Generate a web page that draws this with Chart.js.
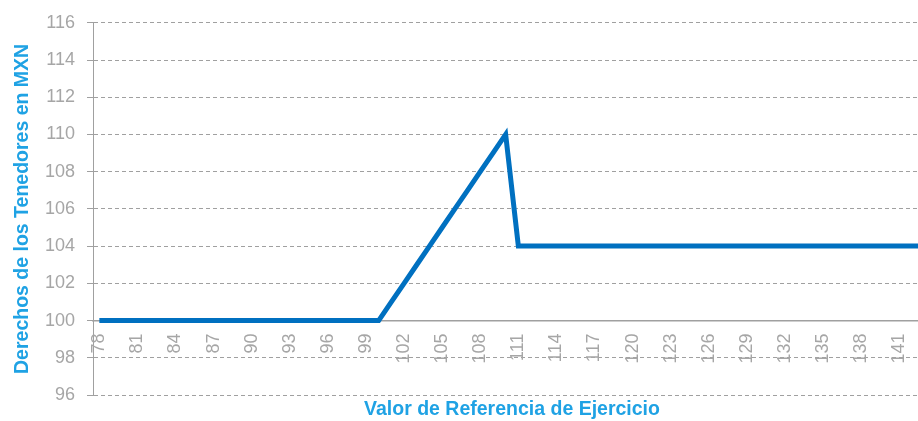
<!DOCTYPE html>
<html>
<head>
<meta charset="utf-8">
<script src="https://cdn.jsdelivr.net/npm/chart.js@4/dist/chart.umd.min.js"></script>
<style>
html,body{margin:0;padding:0;background:#ffffff;overflow:hidden;}
#wrap{width:918px;height:421px;position:relative;overflow:hidden;}
#c{position:absolute;left:0;top:0;}
</style>
</head>
<body>
<div id="wrap"><canvas id="c" width="931" height="421"></canvas></div>
<script>
// Categories (Valor de Referencia de Ejercicio)
const categories = ['78','79','80','81','82','83','84','85','86','87','88','89','90','91','92','93','94','95','96','97','98','99','100',
  '101','102','103','104','105','106','107','108','109','110',
  '111','112','113','114','115','116','117','118','119','120','121','122','123','124','125','126','127','128','129','130',
  '131','132','133','134','135','136','137','138','139','140','141','142','143'];
// Derechos de los Tenedores en MXN
const values = [100,100,100,100,100,100,100,100,100,100,100,100,100,100,100,100,100,100,100,100,100,100,100,
  101,102,103,104,105,106,107,108,109,110,
  104,104,104,104,104,104,104,104,104,104,104,104,104,104,104,104,104,104,104,104,
  104,104,104,104,104,104,104,104,104,104,104,104,104];
// Tick labels shown on the x axis
const xTickLabels = ['78','81','84','87','90','93','96','99','102','105','108','111','114','117','120','123','126','129','132','135','138','141'];
const yMin = 96, yMax = 116, yStep = 2;

const gray = '#a6a6a6';
const blue = '#1fa2e4';
const fontFamily = '"Liberation Sans", Arial, sans-serif';

new Chart(document.getElementById('c'), {
  type: 'line',
  data: {
    labels: categories,
    datasets: [{
      data: values,
      borderColor: '#0070c0',
      borderWidth: 5,
      pointRadius: 0,
      pointHoverRadius: 0,
      tension: 0,
      fill: false,
      borderJoinStyle: 'miter',
      borderCapStyle: 'butt'
    }]
  },
  options: {
    responsive: false,
    devicePixelRatio: 1,
    animation: false,
    events: [],
    layout: { padding: { top: 20, right: 0, left: 0, bottom: 0 } },
    plugins: { legend: { display: false }, tooltip: { enabled: false } },
    scales: {
      y: {
        min: yMin, max: yMax,
        afterFit: s => { s.width = 93; },
        ticks: { stepSize: yStep, color: gray, padding: 12, font: { family: fontFamily, size: 18 } },
        grid: { color: '#a0a0a0', lineWidth: 1, tickLength: 6, tickColor: '#a0a0a0', tickBorderDash: [] },
        border: { display: true, color: '#a0a0a0', width: 1, dash: [4, 3] },
        title: { display: true, text: 'Derechos de los Tenedores en MXN', color: blue,
                 font: { family: fontFamily, size: 19.5, weight: 'bold' }, padding: { top: 11, bottom: 0 } }
      },
      x: {
        position: { y: 100 },
        offset: true,
        afterFit: s => { s.paddingRight = 0; s.paddingLeft = 0; },
        grid: { display: true, color: 'rgba(0,0,0,0)', drawTicks: false },
        border: { display: true, color: '#a0a0a0', width: 1.5 },
        ticks: {
          autoSkip: false, maxRotation: 90, minRotation: 90, padding: 13, color: gray,
          font: { family: fontFamily, size: 18 },
          callback: function (v, i) { const l = categories[i]; return xTickLabels.includes(l) ? l : ''; }
        }
      },
      x2: {
        type: 'category',
        labels: categories,
        position: 'bottom',
        offset: true,
        afterFit: s => { s.height = 26; s.paddingRight = 0; s.paddingLeft = 0; },
        ticks: { display: false },
        grid: { display: false, drawTicks: false },
        border: { display: false },
        title: { display: true, text: 'Valor de Referencia de Ejercicio', color: blue,
                 font: { family: fontFamily, size: 19.5, weight: 'bold' }, padding: { top: 0, bottom: 0 } }
      }
    }
  }
});
</script>
</body>
</html>
